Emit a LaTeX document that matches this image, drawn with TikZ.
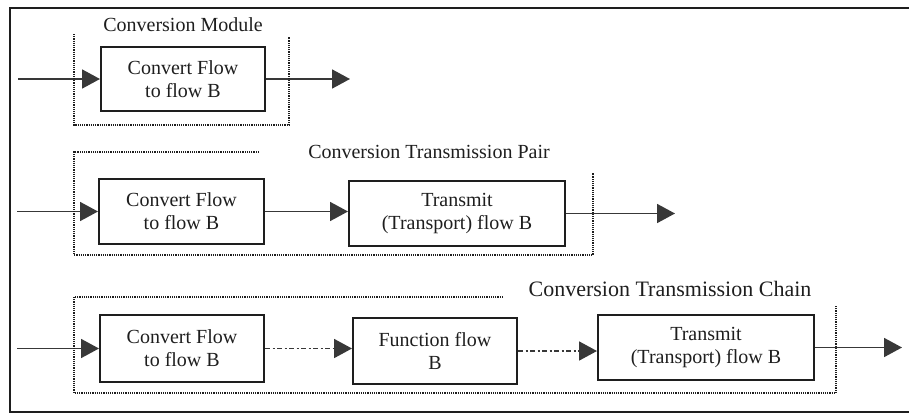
\documentclass[tikz,border=0pt]{standalone}
\usepackage{fontspec}
\setmainfont{Liberation Serif}
\usetikzlibrary{arrows.meta}
\definecolor{ink}{HTML}{1E1E1E}
\definecolor{arrowink}{HTML}{383838}
\begin{document}
\begin{tikzpicture}[x=1pt,y=-1pt,
  every node/.style={font=\fontsize{20}{23}\selectfont, text=ink},
  block/.style={draw=ink, line width=2pt, inner sep=0pt, align=center},
  biglabel/.style={font=\fontsize{22}{25}\selectfont},
  flow/.style={draw=arrowink, line width=1.8pt, -{Triangle[length=18pt,width=19pt]}},
  dashdot/.style={dash pattern=on 5pt off 2.5pt on 2pt off 2.5pt},
  group/.style={draw=ink, line width=1.7pt, dash pattern=on 1.2pt off 1pt}]
\useasboundingbox (0,0) rectangle (909,415);

% outer frame
\draw[ink, line width=1.8pt] (909,8) -- (10,8) -- (10,412) -- (909,412);

% --- conversion module ---
\node (cmlabel) at (183,25) {Conversion Module};
\node[block, minimum width=164pt, minimum height=64pt] (cm) at (183,79) {Convert Flow\\to flow B};
\coordinate (cmin) at (18,79);
\coordinate (cmout) at (350,79);
\draw[flow] (cmin) -- (cm.west);
\draw[flow] (cm.east) -- (cmout);
\draw[group] (74,34) -- (74,125) -- (289,125) -- (289,37);

% --- conversion transmission pair ---
\node (pairlabel) at (429,152) {Conversion Transmission Pair};
\node[block, minimum width=165pt, minimum height=65pt] (pa) at (181.5,211.5) {Convert Flow\\to flow B};
\node[block, minimum width=216pt, minimum height=65pt] (pb) at (457,213.5) {Transmit\\(Transport) flow B};
\coordinate (pin) at (17,211.5);
\coordinate (pout) at (675,213.5);
\draw[flow] (pin) -- (pa.west);
\draw[flow] (pa.east) -- (pa.east -| pb.west);
\draw[flow] (pb.east) -- (pout);
\draw[group] (259,152) -- (74,152) -- (74,255) -- (593,255) -- (593,173);

% --- conversion transmission chain ---
\node[biglabel] (chainlabel) at (670,289) {Conversion Transmission Chain};
\node[block, minimum width=164pt, minimum height=67pt] (ca) at (182,348.5) {Convert Flow\\to flow B};
\node[block, minimum width=164pt, minimum height=66pt] (cb) at (435,351) {Function flow\\B};
\node[block, minimum width=216pt, minimum height=65pt] (cc) at (706,347.5) {Transmit\\(Transport) flow B};
\coordinate (cin) at (17,348.5);
\coordinate (cout) at (902,347.5);
\draw[flow] (cin) -- (ca.west);
\draw[flow, dashdot] (ca.east) -- (ca.east -| cb.west);
\draw[flow, dashdot] (cb.east) -- (cb.east -| cc.west);
\draw[flow] (cc.east) -- (cout);
\draw[group] (503,297) -- (74,297) -- (74,393) -- (836,393) -- (836,306);
\end{tikzpicture}
\end{document}
